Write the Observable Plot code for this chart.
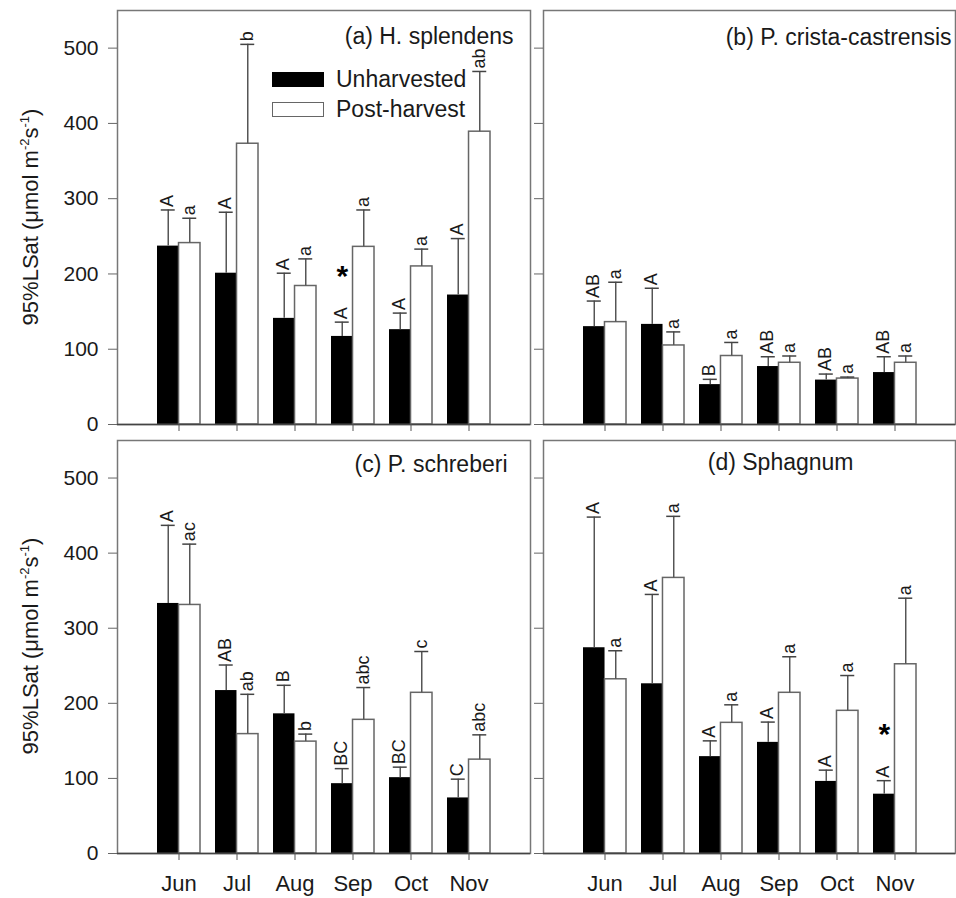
<!DOCTYPE html>
<html>
<head>
<meta charset="utf-8">
<script src="https://cdn.jsdelivr.net/npm/d3@7"></script>
<script src="https://cdn.jsdelivr.net/npm/@observablehq/plot@0.6"></script>
<style>
  body { margin: 0; background: #fff; font-family: "Liberation Sans", Arial, sans-serif; }
  #fig { position: relative; width: 956px; height: 898px; overflow: hidden; background: #fff; }
  .panel { position: absolute; }
  .ylab {
    position: absolute; white-space: nowrap; font-size: 22px; color: #1a1a1a;
    transform: translate(-50%, -50%) rotate(-90deg);
  }
  .ylab sup { font-size: 13px; vertical-align: 9px; line-height: 0; }
  .legend { position: absolute; font-size: 23px; color: #1a1a1a; }
  .legend .row { display: flex; align-items: center; height: 15px; margin-bottom: 15px; }
  .legend .sw { width: 52px; height: 15px; box-sizing: border-box; margin-right: 12px; }
</style>
</head>
<body>
<div id="fig"></div>
<script>
// Months on the x axis and the fixed y ticks
const months = ["Jun", "Jul", "Aug", "Sep", "Oct", "Nov"];
const yTicks = [0, 100, 200, 300, 400, 500];
const groups = ["Unharvested", "Post-harvest"];
const panelTitles = ["(a) H. splendens", "(b) P. crista-castrensis", "(c) P. schreberi", "(d) Sphagnum"];

// (a) H. splendens: means, upper SE and letter groupings
const hsUnharvested = [237, 201, 141, 117, 126, 172];
const hsUnharvestedSE = [48, 81, 60, 19, 22, 75];
const hsPostHarvest = [241, 373, 184, 236, 210, 389];
const hsPostHarvestSE = [33, 132, 36, 49, 23, 80];
const hsUnharvestedLetters = ["A", "A", "A", "A", "A", "A"];
const hsPostHarvestLetters = ["a", "b", "a", "a", "a", "ab"];
const hsSignificant = ["Sep"];

// (b) P. crista-castrensis
const pcUnharvested = [130, 133, 53, 77, 59, 69];
const pcUnharvestedSE = [34, 48, 7, 13, 8, 21];
const pcPostHarvest = [136, 105, 91, 82, 61, 82];
const pcPostHarvestSE = [53, 18, 18, 9, 2, 9];
const pcUnharvestedLetters = ["AB", "A", "B", "AB", "AB", "AB"];
const pcPostHarvestLetters = ["a", "a", "a", "a", "a", "a"];
const pcSignificant = [];

// (c) P. schreberi
const psUnharvested = [333, 217, 186, 93, 101, 74];
const psUnharvestedSE = [104, 34, 38, 20, 14, 25];
const psPostHarvest = [331, 159, 149, 178, 214, 125];
const psPostHarvestSE = [81, 53, 10, 43, 55, 33];
const psUnharvestedLetters = ["A", "AB", "B", "BC", "BC", "C"];
const psPostHarvestLetters = ["ac", "ab", "b", "abc", "c", "abc"];
const psSignificant = [];

// (d) Sphagnum
const spUnharvested = [274, 226, 129, 148, 96, 79];
const spUnharvestedSE = [174, 119, 21, 27, 15, 18];
const spPostHarvest = [232, 367, 174, 214, 190, 252];
const spPostHarvestSE = [38, 82, 24, 48, 47, 88];
const spUnharvestedLetters = ["A", "A", "A", "A", "A", "A"];
const spPostHarvestLetters = ["a", "a", "a", "a", "a", "a"];
const spSignificant = ["Nov"];

const PAD_INNER = 0.267;
const PAD_OUTER = 0.65;
const CAP = 7;          // half-width of the error bar caps, px
const STAR_GAP = 72;    // asterisk sits this far (data units) above the SE bar

const rowsOf = (means, se, letters) =>
  months.map((m, i) => ({month: m, mean: means[i], top: means[i] + se[i], letter: letters[i]}));

function drawPanel(cfg) {
  const frameW = cfg.width - cfg.marginLeft - cfg.marginRight;
  const step = frameW / (months.length - PAD_INNER + 2 * PAD_OUTER);
  const bw = step * (1 - PAD_INNER);
  const half = bw / 2, q = bw / 4;

  const unh = rowsOf(cfg.unh, cfg.unhSE, cfg.unhLetters);
  const post = rowsOf(cfg.post, cfg.postSE, cfg.postLetters);
  const stars = unh.filter(d => cfg.stars.includes(d.month));

  const plot = Plot.plot({
    width: cfg.width,
    height: cfg.height,
    marginLeft: cfg.marginLeft,
    marginRight: cfg.marginRight,
    marginTop: cfg.marginTop,
    marginBottom: cfg.marginBottom,
    style: {fontFamily: '"Liberation Sans", Arial, sans-serif', background: "transparent", overflow: "visible", color: "#1a1a1a"},
    x: {type: "band", domain: months, paddingInner: PAD_INNER, paddingOuter: PAD_OUTER, align: 0.5},
    y: {domain: [0, 550]},
    marks: [
      Plot.barY(unh, {x: "month", y: "mean", fill: "#000", insetRight: half}),
      Plot.barY(post, {x: "month", y: "mean", fill: "#fff", stroke: "#666", strokeWidth: 1.5, insetLeft: half}),
      // upper SE bars
      Plot.ruleX(unh, {x: "month", y1: "mean", y2: "top", dx: -q, stroke: "#555", strokeWidth: 1.5}),
      Plot.ruleX(post, {x: "month", y1: "mean", y2: "top", dx: q, stroke: "#555", strokeWidth: 1.5}),
      Plot.tickY(unh, {x: "month", y: "top", insetLeft: q - CAP, insetRight: bw - q - CAP, stroke: "#444", strokeWidth: 1.5}),
      Plot.tickY(post, {x: "month", y: "top", insetLeft: bw - q - CAP, insetRight: q - CAP, stroke: "#444", strokeWidth: 1.5}),
      // letter groupings above the bars
      Plot.text(unh, {x: "month", y: "top", text: "letter", rotate: -90, textAnchor: "start", dx: -q - 1, dy: -3, fontSize: 18, fill: "#1a1a1a"}),
      Plot.text(post, {x: "month", y: "top", text: "letter", rotate: -90, textAnchor: "start", dx: q - 1, dy: -3, fontSize: 18, fill: "#1a1a1a"}),
      // significant treatment difference
      Plot.text(stars, {x: "month", y: d => d.top + STAR_GAP, text: () => "*", dx: -q, dy: 8, fontSize: 30, fontWeight: "bold", fill: "#000"}),
      Plot.frame({stroke: "#777", strokeWidth: 1.5}),
      Plot.ruleY([0], {stroke: "#444", strokeWidth: 1.5}),
      Plot.text([cfg.title], {frameAnchor: "top-right", text: d => d, textAnchor: "end", lineAnchor: "top", dx: cfg.titleDx, dy: cfg.titleDy, fontSize: 23, fill: "#1a1a1a"}),
      Plot.axisY({ticks: yTicks, tickSize: 9, tickPadding: 10, fontSize: 21, stroke: "#666", fill: "#1a1a1a", label: null,
                  tickFormat: cfg.yLabels ? d => String(d) : () => ""}),
      Plot.axisX({tickSize: 7, tickPadding: 15, fontSize: 22, stroke: "#555", fill: "#1a1a1a", label: null,
                  tickFormat: cfg.xLabels ? d => d : () => ""})
    ]
  });

  const holder = document.createElement("div");
  holder.className = "panel";
  holder.style.left = cfg.left + "px";
  holder.style.top = cfg.top + "px";
  holder.appendChild(plot);
  document.getElementById("fig").appendChild(holder);
}

const leftCol = {left: 0, width: 536, marginLeft: 117, marginRight: 6, yLabels: true};
const rightCol = {left: 536, width: 420, marginLeft: 7, marginRight: 1, yLabels: false};
const topRow = {top: 0, height: 432, marginTop: 10, marginBottom: 8, xLabels: false};
const bottomRow = {top: 432, height: 466, marginTop: 8, marginBottom: 45, xLabels: true};

drawPanel({...leftCol, ...topRow, title: panelTitles[0], titleDx: -17, titleDy: 17,
  unh: hsUnharvested, unhSE: hsUnharvestedSE, post: hsPostHarvest, postSE: hsPostHarvestSE,
  unhLetters: hsUnharvestedLetters, postLetters: hsPostHarvestLetters, stars: hsSignificant});
drawPanel({...rightCol, ...topRow, title: panelTitles[1], titleDx: -4, titleDy: 18,
  unh: pcUnharvested, unhSE: pcUnharvestedSE, post: pcPostHarvest, postSE: pcPostHarvestSE,
  unhLetters: pcUnharvestedLetters, postLetters: pcPostHarvestLetters, stars: pcSignificant});
drawPanel({...leftCol, ...bottomRow, title: panelTitles[2], titleDx: -23, titleDy: 15,
  unh: psUnharvested, unhSE: psUnharvestedSE, post: psPostHarvest, postSE: psPostHarvestSE,
  unhLetters: psUnharvestedLetters, postLetters: psPostHarvestLetters, stars: psSignificant});
drawPanel({...rightCol, ...bottomRow, title: panelTitles[3], titleDx: -102, titleDy: 13,
  unh: spUnharvested, unhSE: spUnharvestedSE, post: spPostHarvest, postSE: spPostHarvestSE,
  unhLetters: spUnharvestedLetters, postLetters: spPostHarvestLetters, stars: spSignificant});

// y-axis titles for both rows
const fig = document.getElementById("fig");
for (const cy of [217, 646]) {
  const lab = document.createElement("div");
  lab.className = "ylab";
  lab.style.left = "31px";
  lab.style.top = cy + "px";
  lab.innerHTML = "95%LSat (μmol m<sup>-2</sup>s<sup>-1</sup>)";
  fig.appendChild(lab);
}

// legend for the treatments
const legend = document.createElement("div");
legend.className = "legend";
legend.style.left = "272px";
legend.style.top = "72px";
const swatchStyles = ["background:#000;", "background:#fff;border:1.5px solid #666;"];
groups.forEach((g, i) => {
  const row = document.createElement("div");
  row.className = "row";
  row.innerHTML = `<span class="sw" style="${swatchStyles[i]}"></span><span>${g}</span>`;
  legend.appendChild(row);
});
fig.appendChild(legend);
</script>
</body>
</html>
